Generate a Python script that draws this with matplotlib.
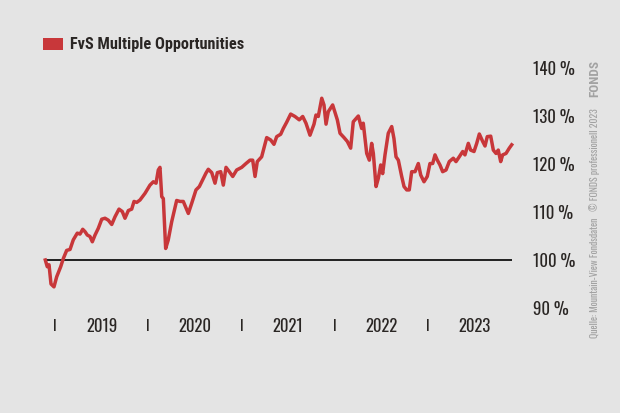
import matplotlib
matplotlib.use("Agg")
import matplotlib.pyplot as plt
from matplotlib.patches import Rectangle

# ---- data ----
series_name = "FvS Multiple Opportunities"
t = [2018.896, 2018.917, 2018.936, 2018.957, 2018.989, 2019.018, 2019.061, 2019.089, 2019.125, 2019.161,
     2019.196, 2019.239, 2019.268, 2019.297, 2019.322, 2019.346, 2019.375, 2019.400, 2019.429, 2019.464,
     2019.501, 2019.536, 2019.571, 2019.608, 2019.643, 2019.686, 2019.721, 2019.750, 2019.786, 2019.822,
     2019.847, 2019.876, 2019.911, 2019.965, 2020.018, 2020.054, 2020.083, 2020.107, 2020.125, 2020.144,
     2020.161, 2020.186, 2020.214, 2020.251, 2020.304, 2020.340, 2020.375, 2020.429, 2020.465, 2020.511,
     2020.547, 2020.583, 2020.618, 2020.643, 2020.680, 2020.715, 2020.740, 2020.776, 2020.804, 2020.833,
     2020.868, 2020.905, 2020.947, 2021.001, 2021.047, 2021.090, 2021.119, 2021.144, 2021.168, 2021.215,
     2021.269, 2021.312, 2021.347, 2021.376, 2021.419, 2021.447, 2021.483, 2021.526, 2021.572, 2021.618,
     2021.655, 2021.690, 2021.733, 2021.776, 2021.797, 2021.822, 2021.859, 2021.883, 2021.905, 2021.929,
     2021.976, 2022.026, 2022.055, 2022.098, 2022.133, 2022.169, 2022.197, 2022.251, 2022.287, 2022.304,
     2022.341, 2022.369, 2022.394, 2022.412, 2022.441, 2022.465, 2022.491, 2022.512, 2022.537, 2022.572,
     2022.609, 2022.633, 2022.655, 2022.680, 2022.716, 2022.741, 2022.770, 2022.797, 2022.823, 2022.859,
     2022.894, 2022.920, 2022.955, 2022.990, 2023.019, 2023.048, 2023.073, 2023.098, 2023.126, 2023.155,
     2023.191, 2023.226, 2023.269, 2023.298, 2023.333, 2023.370, 2023.394, 2023.430, 2023.455, 2023.491,
     2023.520, 2023.548, 2023.584, 2023.609, 2023.633, 2023.670, 2023.698, 2023.727, 2023.751, 2023.777,
     2023.798, 2023.834, 2023.869, 2023.895]
values = [100.0, 98.6, 99.0, 95.0, 94.4, 96.5, 98.6, 100.3, 102.0, 102.2,
          104.2, 105.6, 105.4, 106.4, 105.9, 105.2, 104.9, 103.8, 105.2, 106.6,
          108.5, 108.7, 108.3, 107.4, 109.0, 110.6, 110.1, 108.7, 110.3, 110.6,
          112.2, 112.0, 112.5, 113.9, 115.6, 116.3, 116.0, 118.75, 119.3, 113.2,
          112.8, 102.4, 104.2, 108.0, 112.4, 112.2, 112.2, 109.7, 111.8, 114.6,
          115.3, 116.7, 118.1, 118.9, 118.2, 116.0, 118.2, 118.4, 115.6, 119.3,
          118.4, 117.4, 118.75, 119.3, 120.1, 120.8, 120.8, 117.4, 120.5, 121.5,
          125.5, 125.0, 124.1, 125.7, 126.2, 127.4, 128.7, 130.4, 129.9, 129.2,
          129.9, 128.5, 126.0, 128.3, 130.2, 129.9, 133.7, 132.3, 128.3, 130.9,
          132.3, 129.2, 126.4, 125.5, 124.7, 123.3, 128.8, 130.0, 127.4, 128.5,
          122.2, 120.8, 124.3, 122.2, 115.3, 117.0, 119.8, 118.0, 121.9, 126.4,
          127.8, 125.3, 121.5, 120.8, 117.4, 115.3, 114.6, 114.6, 118.4, 118.4,
          120.1, 117.7, 116.3, 117.4, 120.1, 120.1, 121.9, 120.8, 119.8, 118.4,
          118.75, 120.5, 121.2, 120.5, 121.5, 122.6, 121.9, 124.3, 122.9, 122.6,
          124.3, 126.25, 124.7, 123.75, 125.7, 125.8, 122.9, 122.2, 122.9, 120.5,
          121.9, 122.2, 123.3, 124.0]
years = [2019, 2020, 2021, 2022, 2023]
y_ticks = [90, 100, 110, 120, 130, 140]
y_labels = ["90 %", "100 %", "110 %", "120 %", "130 %", "140 %"]
baseline = 100
source = "Quelle: Mountain-View Fondsdaten   \u00a9 FONDS professionell 2023"

BG = "#e4e4e4"
RED = "#c8373a"
TXT = "#2a2624"
FONT = ["Oswald", "DejaVu Sans"]
BOLDFONT = ["Roboto Condensed", "Oswald", "DejaVu Sans"]

W, H = 620, 413
fig = plt.figure(figsize=(W / 100, H / 100), dpi=100, facecolor=BG)

x0, x1 = 45.3, 511.7
y_top, y_bot = 68, 308
ax = fig.add_axes([x0 / W, 1 - y_bot / H, (x1 - x0) / W, (y_bot - y_top) / H])
ax.set_facecolor(BG)
ax.set_xlim(t[0], t[-1])
ax.set_ylim(90, 140)
for s in ax.spines.values():
    s.set_visible(False)
ax.set_xticks([])
ax.yaxis.tick_right()
ax.set_yticks(y_ticks)
ax.set_yticklabels(y_labels, family=FONT, fontsize=12, color=TXT)
ax.tick_params(axis="y", length=0, pad=15)

ax.axhline(baseline, color="#111111", lw=1.3, zorder=2)
ax.plot(t, values, color=RED, lw=2.5, solid_joinstyle="round", zorder=3, clip_on=False)

# year labels and separators
for yr in years:
    ax.text(yr, -0.078, "I", transform=ax.get_xaxis_transform(), ha="center", va="center",
            family=FONT, fontsize=11, color=TXT)
    ax.text(yr + 0.5, -0.078, str(yr), transform=ax.get_xaxis_transform(), ha="center", va="center",
            family=FONT, fontsize=12, color=TXT)

# legend
fig.patches.append(Rectangle((42.5 / W, 1 - 50 / H), 20 / W, 12.5 / H, transform=fig.transFigure,
                             facecolor=RED, edgecolor="none"))
fig.text(70.5 / W, 1 - 44 / H, series_name, ha="left", va="center", family=BOLDFONT,
         fontsize=11.7, fontweight="bold", color=TXT)

# source (vertical)
fig.text(595 / W, 1 - 338 / H, source, rotation=90, ha="center", va="bottom", family=FONT,
         fontsize=7, color="#a2a2a2")
fig.text(595 / W, 1 - 97 / H, "FONDS", rotation=90, ha="center", va="bottom", family=BOLDFONT,
         fontsize=9.5, fontweight="bold", color="#a2a2a2")

fig.savefig("out.png", dpi=100, facecolor=BG)
